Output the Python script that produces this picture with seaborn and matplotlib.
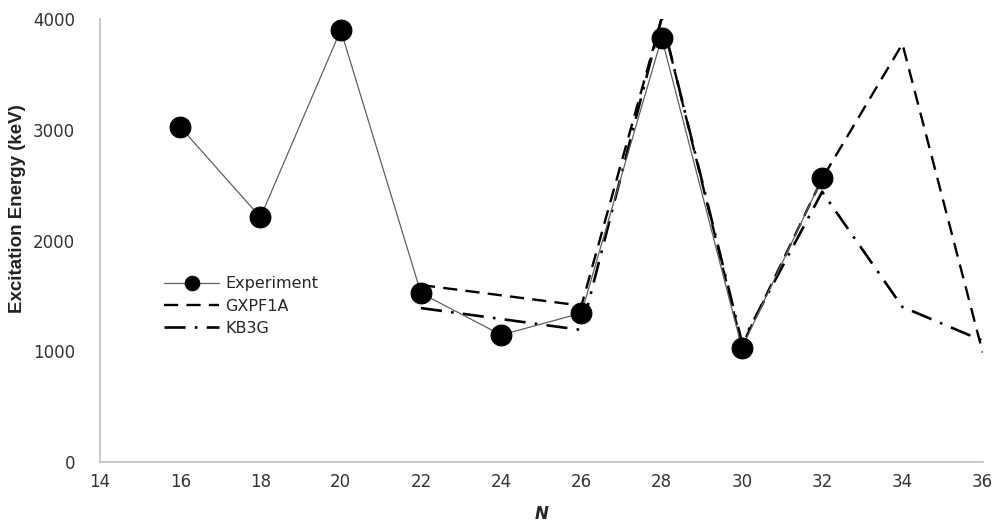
import numpy as np
import pandas as pd
import matplotlib
matplotlib.use("Agg")
import matplotlib.pyplot as plt
import seaborn as sns

# neutron number N and 2+ excitation energies (keV)
exp_n = [16, 18, 20, 22, 24, 26, 28, 30, 32]
exp_e = [3025, 2210, 3900, 1525, 1147, 1345, 3830, 1030, 2562]

gx_n = [22, 26, 28, 30, 32, 34, 36]
gx_e = [1598, 1412, 4010, 1050, 2560, 3775, 990]

kb_n = [22, 26, 28, 30, 32, 34, 36]
kb_e = [1390, 1192, 4010, 1080, 2440, 1400, 1095]

x_ticks = list(range(14, 37, 2))
y_ticks = [0, 1000, 2000, 3000, 4000]

sns.set_style("white")
plt.rcParams["font.family"] = ["DejaVu Sans"]

fig = plt.figure(figsize=(9.94, 5.23), dpi=100)
ax = fig.add_axes([0.1006, 0.1166, 0.888, 0.8471])

df_exp = pd.DataFrame({"N": exp_n, "E": exp_e})
df_gx = pd.DataFrame({"N": gx_n, "E": gx_e})
df_kb = pd.DataFrame({"N": kb_n, "E": kb_e})

sns.lineplot(data=df_gx, x="N", y="E", ax=ax, color="black", linewidth=1.7,
             label="GXPF1A", zorder=2)
sns.lineplot(data=df_kb, x="N", y="E", ax=ax, color="black", linewidth=1.9,
             label="KB3G", zorder=2)
ax.lines[0].set_dashes((6, 3.5))
ax.lines[1].set_dashes((8, 3.5, 1, 3.5))

sns.lineplot(data=df_exp, x="N", y="E", ax=ax, color="#606060", linewidth=0.9,
             marker="o", markersize=15, markerfacecolor="black",
             markeredgecolor="black", label="Experiment", zorder=3)

ax.set_xlim(14, 36)
ax.set_ylim(0, 4000)
ax.set_xticks(x_ticks)
ax.set_yticks(y_ticks)
ax.tick_params(axis="both", length=0, labelsize=12, colors="#333333", pad=8)
ax.tick_params(axis="y", pad=18)

for side in ["top", "right"]:
    ax.spines[side].set_visible(False)
for side in ["left", "bottom"]:
    ax.spines[side].set_color("#bfbfbf")
    ax.spines[side].set_linewidth(1.2)

ax.set_ylabel("Excitation Energy (keV)", fontsize=13.5, fontweight="bold",
              color="#222222",
              family=["Liberation Sans Narrow", "Liberation Sans"])
ax.yaxis.set_label_coords(-0.084, 0.573)
ax.set_xlabel("N", fontsize=12, fontweight="bold", style="italic")
ax.xaxis.set_label_coords(0.5, -0.097)

handles, labels = ax.get_legend_handles_labels()
order = [labels.index(l) for l in ["Experiment", "GXPF1A", "KB3G"]]
leg = ax.legend([handles[i] for i in order], [labels[i] for i in order],
                loc="upper left", bbox_to_anchor=(150 / 994, 1 - 262 / 523),
                bbox_transform=fig.transFigure, frameon=False, fontsize=11.5,
                handlelength=3.4, handletextpad=0.4, labelspacing=0.45,
                markerscale=0.7)

fig.savefig("out.png", dpi=100)
